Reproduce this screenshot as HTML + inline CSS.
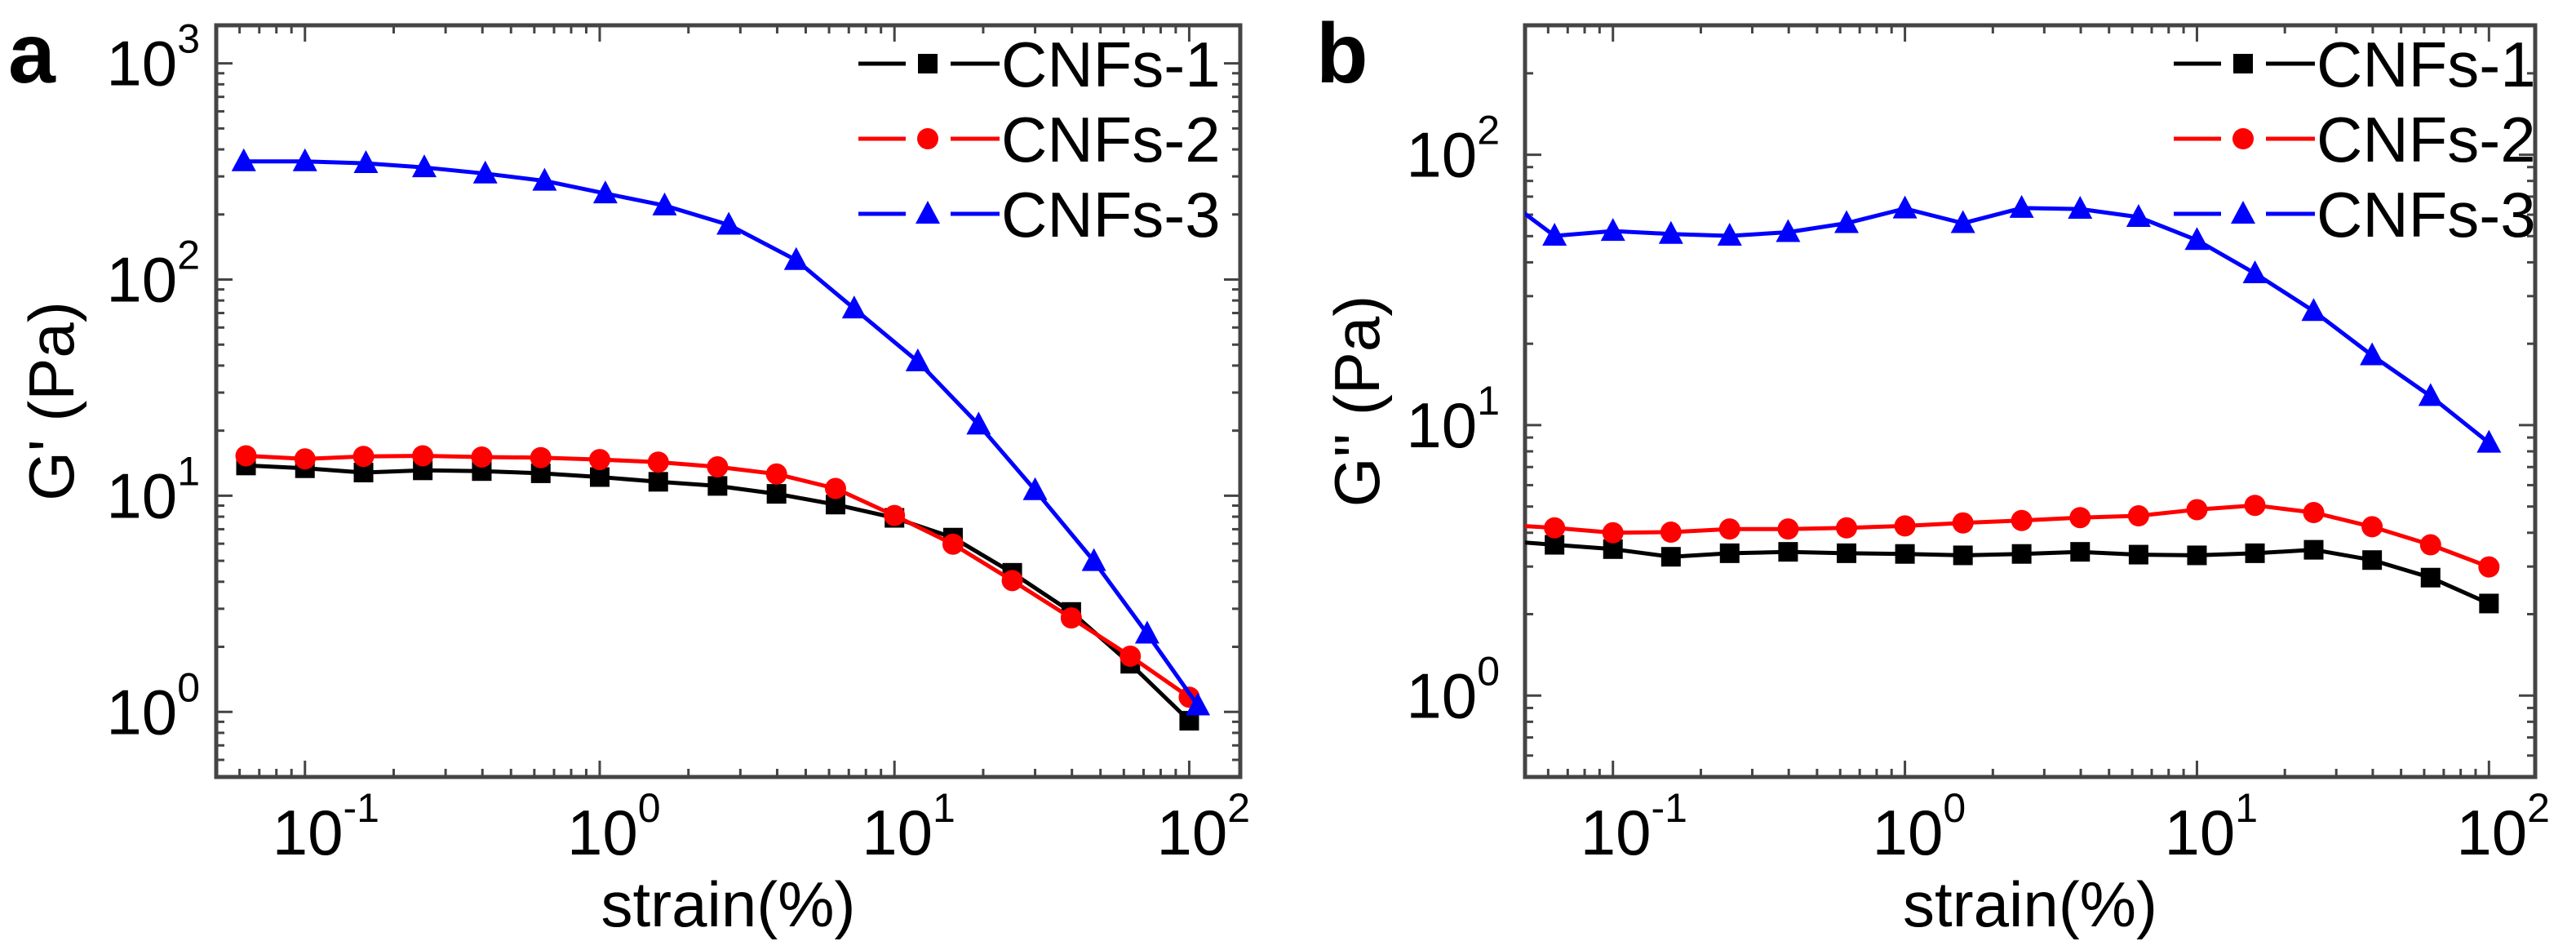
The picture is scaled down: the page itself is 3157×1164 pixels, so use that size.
<!DOCTYPE html>
<html><head><meta charset="utf-8"><style>
html,body{margin:0;padding:0;background:#fff;}
svg{display:block;font-family:"Liberation Sans",Arial,sans-serif;}
</style></head><body>
<svg id="chart" width="3157" height="1164" viewBox="0 0 3157 1164" xmlns="http://www.w3.org/2000/svg">
<rect x="0" y="0" width="3157" height="1164" fill="#fff"/>
</svg>
<script>
// ---- data ----
const seriesNames = ["CNFs-1","CNFs-2","CNFs-3"];
const seriesColors = ["#000000","#ff0000","#0000ff"];
const strainA = [0.0631,0.1,0.158,0.251,0.398,0.631,1,1.58,2.51,3.98,6.31,10,15.8,25.1,39.8,63.1,100];
const strainA3 = [0.062,0.1,0.161,0.254,0.409,0.65,1.045,1.66,2.74,4.64,7.3,12.0,19.3,30,47.5,72,107];
const gPrime1 = [13.8,13.4,12.8,13.1,13.0,12.7,12.2,11.6,11.1,10.2,9.1,7.9,6.4,4.4,2.9,1.67,0.91];
const gPrime2 = [15.3,14.8,15.2,15.3,15.1,15.0,14.7,14.3,13.6,12.6,10.8,8.1,5.97,4.05,2.72,1.81,1.17];
const gPrime3 = [352,352,345,330,309,286,250,220,179,123,73.4,41.8,21.3,10.6,4.98,2.30,1.07];
const strainB = [0.0398,0.0631,0.1,0.158,0.251,0.398,0.631,1,1.58,2.51,3.98,6.31,10,15.8,25.1,39.8,63.1,100];
const gDouble1 = [3.75,3.61,3.48,3.26,3.36,3.40,3.36,3.34,3.30,3.34,3.40,3.32,3.30,3.36,3.46,3.17,2.73,2.19];
const gDouble2 = [4.3,4.17,4.0,4.02,4.13,4.13,4.17,4.24,4.35,4.44,4.55,4.62,4.87,5.05,4.75,4.21,3.61,2.99];
const gDouble3 = [72.6,50.1,52.2,50.9,50.1,51.7,55.8,63.2,55.8,63.5,63.0,58.8,48.3,36.4,26.4,18.1,12.8,8.6];
const xTickExps = [-1,0,1,2];
const yTickExpsA = [0,1,2,3];
const yTickExpsB = [0,1,2];

const NS="http://www.w3.org/2000/svg";
const svg=document.getElementById('chart');
function mk(tag,attrs,parent){const e=document.createElementNS(NS,tag);for(const k in attrs)e.setAttribute(k,attrs[k]);(parent||svg).appendChild(e);return e;}

function panel(cfg){
  const g=mk('g',{});
  
  
  const L=cfg.left,R=cfg.right,T=cfg.top,B=cfg.bottom;
  const lx0=Math.log10(cfg.xmin),lx1=Math.log10(cfg.xmax),ly0=Math.log10(cfg.ymin),ly1=Math.log10(cfg.ymax);
  const X=v=>L+(Math.log10(v)-lx0)/(lx1-lx0)*(R-L);
  const Y=v=>B-(Math.log10(v)-ly0)/(ly1-ly0)*(B-T);
  const clipId='clip-'+cfg.name;
  const defs=mk('defs',{},g);
  const cp=mk('clipPath',{id:clipId},defs);
  mk('rect',{x:L,y:T,width:R-L,height:B-T},cp);
  const tg=mk('g',{stroke:'#444','stroke-width':3},g);
  
  
  for(let e=Math.floor(lx0);e<=Math.ceil(lx1);e++){
    for(let m=1;m<10;m++){const v=m*Math.pow(10,e);if(v<cfg.xmin||v>cfg.xmax)continue;const x=X(v);const len=m===1?20:10;
      mk('line',{x1:x,y1:B,x2:x,y2:B-len},tg);mk('line',{x1:x,y1:T,x2:x,y2:T+len},tg);}
  }
  for(let e=Math.floor(ly0);e<=Math.ceil(ly1);e++){
    for(let m=1;m<10;m++){const v=m*Math.pow(10,e);if(v<cfg.ymin||v>cfg.ymax)continue;const y=Y(v);const len=m===1?20:10;
      mk('line',{x1:L,y1:y,x2:L+len,y2:y},tg);mk('line',{x1:R,y1:y,x2:R-len,y2:y},tg);}
  }
  const fr=mk('rect',{x:L,y:T,width:R-L,height:B-T,fill:'none',stroke:'#444','stroke-width':5},g);
  
  
  xTickExps.forEach(e=>{
    const t=mk('text',{x:X(Math.pow(10,e))-40,y:1047,'font-size':78,fill:'#000'},g);
    
    
    t.textContent='10';
    const s=mk('tspan',{dy:-40,'font-size':50},t);s.textContent=String(e);
  });
  cfg.yTicks.forEach(e=>{
    const t=mk('text',{x:cfg.yLabelX,y:Y(Math.pow(10,e))+27,'font-size':78,fill:'#000','text-anchor':'end'},g);
    
    
    t.textContent='10';
    const s=mk('tspan',{dy:-40,'font-size':50},t);s.textContent=String(e);
  });
  const xt=mk('text',{x:(L+R)/2,y:1135,'font-size':78,'text-anchor':'middle',fill:'#000'},g);
  
  
  xt.textContent='strain(%)';
  const yt=mk('text',{x:0,y:0,'font-size':78,'text-anchor':'middle',fill:'#000',transform:`translate(${cfg.yTitleX},${(T+B)/2}) rotate(-90)`},g);
  
  
  yt.textContent=cfg.yTitle;
  const pl=mk('text',{x:cfg.labelX,y:101,'font-size':104,'font-weight':'bold',fill:'#000'},g);
  
  
  pl.textContent=cfg.label;
  const dg=mk('g',{'clip-path':`url(#${clipId})`},g);
  cfg.series.forEach((s,i)=>{
    const sg=mk('g',{},dg);
    
    
    const pts=s.x.map((xv,j)=>X(xv).toFixed(1)+','+Y(s.y[j]).toFixed(1)).join(' ');
    const ln=mk('polyline',{points:pts,fill:'none',stroke:seriesColors[i],'stroke-width':5,'stroke-linejoin':'round'},sg);
    
    
    s.x.forEach((xv,j)=>{const m=marker(i,X(xv),Y(s.y[j]),sg);
      
      });
  });
  const lg=mk('g',{},g);
  
  
  const lys=[78,170,262];
  seriesNames.forEach((n,i)=>{
    const eg=mk('g',{},lg);
    
    
    const x0=cfg.legendX,y=lys[i];
    mk('line',{x1:x0,y1:y,x2:x0+58,y2:y,stroke:seriesColors[i],'stroke-width':5},eg);
    mk('line',{x1:x0+113,y1:y,x2:x0+173,y2:y,stroke:seriesColors[i],'stroke-width':5},eg);
    marker(i,x0+85,y,eg);
    const t=mk('text',{x:x0+175,y:y+28,'font-size':78,fill:'#000'},eg);t.textContent=n;
  });
}
function marker(i,x,y,parent){
  const c=seriesColors[i];
  if(i===0)return mk('rect',{x:x-12,y:y-12,width:24,height:24,fill:c},parent);
  if(i===1)return mk('circle',{cx:x,cy:y,r:13,fill:c},parent);
  return mk('polygon',{points:`${x},${y-16} ${x-15},${y+12} ${x+15},${y+12}`,fill:c},parent);
}

panel({name:'panel-a-storage-modulus',left:265,right:1520,top:31,bottom:952,xmin:0.05,xmax:149,ymin:0.5,ymax:1500,
  yTicks:yTickExpsA,yLabelX:245,yTitle:"G' (Pa)",yTitleX:90,label:'a',labelX:10,legendX:1052,
  series:[{x:strainA,y:gPrime1},{x:strainA,y:gPrime2},{x:strainA3,y:gPrime3}]});
panel({name:'panel-b-loss-modulus',left:1869,right:3107,top:31,bottom:952,xmin:0.05,xmax:144,ymin:0.5,ymax:301,
  yTicks:yTickExpsB,yLabelX:1838,yTitle:"G'' (Pa)",yTitleX:1690,label:'b',labelX:1613,legendX:2664,
  series:[{x:strainB,y:gDouble1},{x:strainB,y:gDouble2},{x:strainB,y:gDouble3}]});
</script>
</body></html>
